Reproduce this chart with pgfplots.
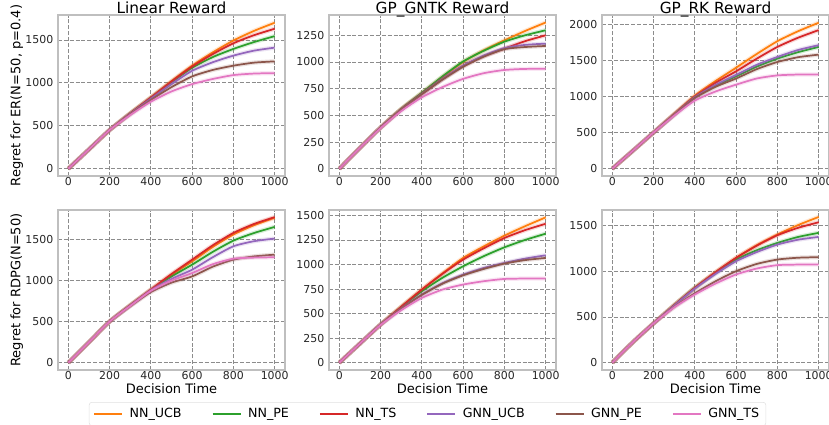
\documentclass[border=0pt]{standalone}
\usepackage{pgfplots}
\pgfplotsset{compat=1.18}
\usepackage{pgfplotstable}
\usepackage{fontspec}
\setmainfont{DejaVu Sans}
\definecolor{c1}{HTML}{FF7F0E}
\definecolor{c2}{HTML}{2CA02C}
\definecolor{c3}{HTML}{D62728}
\definecolor{c4}{HTML}{9467BD}
\definecolor{c5}{HTML}{8C564B}
\definecolor{c6}{HTML}{E377C2}
\definecolor{framec}{HTML}{BFBFBF}
\definecolor{gridc}{HTML}{8C8C8C}

% x ucb pe ts gucb gpe gts
\pgfplotstableread{
x ucb pe ts gucb gpe gts
0 0 0 0 0 0 0
100 225 225 225 225 225 225
200 450 450 450 450 450 450
300 645 645 645 640 635 625
400 830 825 830 815 800 780
500 1020 1005 1015 985 950 900
600 1200 1175 1190 1140 1075 985
700 1355 1300 1335 1240 1150 1045
800 1493 1395 1461 1317 1200 1090
900 1605 1475 1555 1375 1235 1108
1000 1700 1544 1630 1410 1250 1113
}\tA
\pgfplotstableread{
x ucb pe ts gucb gpe gts
0 0 0 0 0 0 0
100 195 195 195 195 195 195
200 386 386 386 386 386 380
300 560 560 555 555 555 540
400 710 712 700 700 698 669
500 860 865 840 840 835 765
600 1000 1005 965 965 955 842
700 1110 1105 1055 1060 1050 895
800 1203 1190 1125 1130 1120 925
900 1290 1250 1195 1160 1140 935
1000 1370 1297 1250 1172 1150 936
}\tB
\pgfplotstableread{
x ucb pe ts gucb gpe gts
0 0 0 0 0 0 0
100 250 250 250 250 250 250
200 502 502 502 502 502 502
300 760 750 755 750 748 735
400 1014 985 1000 990 980 944
500 1215 1150 1190 1160 1135 1070
600 1400 1280 1350 1300 1250 1165
700 1590 1415 1525 1440 1380 1250
800 1767 1526 1688 1549 1479 1293
900 1905 1615 1815 1645 1545 1305
1000 2023 1688 1921 1712 1581 1307
}\tC
\pgfplotstableread{
x ucb pe ts gucb gpe gts
0 0 0 0 0 0 0
100 250 250 250 250 250 250
200 501 501 501 501 501 501
300 700 700 700 695 690 692
400 888 885 892 880 860 875
500 1070 1050 1080 1020 975 1000
600 1235 1194 1255 1133 1051 1092
700 1410 1350 1430 1285 1170 1200
800 1561 1487 1581 1418 1255 1267
900 1675 1580 1690 1480 1295 1280
1000 1765 1654 1773 1512 1316 1284
}\tD
\pgfplotstableread{
x ucb pe ts gucb gpe gts
0 0 0 0 0 0 0
100 195 195 195 195 195 195
200 389 389 389 389 389 385
300 570 565 570 550 550 535
400 745 728 745 694 690 660
500 910 865 905 810 805 745
600 1067 982 1050 897 890 796
700 1185 1085 1165 965 955 830
800 1294 1175 1270 1016 1009 853
900 1390 1250 1350 1060 1045 857
1000 1480 1314 1415 1094 1067 857
}\tE
\pgfplotstableread{
x ucb pe ts gucb gpe gts
0 0 0 0 0 0 0
100 225 225 225 225 225 225
200 430 430 430 430 430 430
300 630 630 630 625 610 605
400 819 820 819 810 760 746
500 990 980 990 970 890 865
600 1147 1128 1147 1110 1001 965
700 1285 1230 1280 1210 1080 1030
800 1402 1310 1394 1292 1128 1067
900 1505 1375 1475 1345 1148 1073
1000 1594 1420 1536 1376 1154 1074
}\tF

\newcommand{\series}[3]{%
  \addplot[#2, smooth, tension=0.4, line width=3.2pt, opacity=0.18, forget plot] table[x=x,y=#3]{#1};
  \addplot[#2, smooth, tension=0.4, line width=1.3pt] table[x=x,y=#3]{#1};
}
\newcommand{\panel}[1]{%
  \series{#1}{c1}{ucb}
  \series{#1}{c2}{pe}
  \series{#1}{c3}{ts}
  \series{#1}{c4}{gucb}
  \series{#1}{c5}{gpe}
  \series{#1}{c6}{gts}
}

\pgfplotsset{
  myaxis/.style={
    scale only axis,
    width=170.25pt,
    anchor=north west,
    xmin=-50, xmax=1050,
    xtick={0,200,...,1000},
    axis line style={framec, line width=0.8pt},
    major tick length=0pt,
    grid=major,
    major grid style={gridc, line width=0.6pt, dash pattern=on 3pt off 1.4pt},
    tick label style={font=\fontsize{8.2}{10}\selectfont, text=black!85},
    xticklabel style={yshift=2.2pt},
    /pgf/number format/1000 sep={},
    /pgf/number format/assume math mode=true,
    label style={font=\fontsize{9.75}{11}\selectfont},
    xlabel style={yshift=4pt},
    ylabel style={yshift=-5pt},
    every axis title/.style={at={(0.5,1)}, anchor=base, yshift=1pt,
      font=\fontsize{11.5}{13}\selectfont},
    every axis plot/.append style={no marks},
    clip=true,
  },
}

\begin{document}
\begin{tikzpicture}
\useasboundingbox (0,0) rectangle (621.75pt,-318.75pt);
% Row 1
\begin{axis}[myaxis, at={(43.5pt,-11.25pt)}, height=120.75pt,
  ymin=-85, ymax=1790, ytick={0,500,1000,1500},
  title={Linear Reward}, ylabel={Regret for ER(N=50, p=0.4)}]
\panel{\tA}
\end{axis}
\begin{axis}[myaxis, at={(246.75pt,-11.25pt)}, height=120.75pt,
  ymin=-68, ymax=1440, ytick={0,250,...,1250},
  title={GP\_GNTK Reward}]
\panel{\tB}
\end{axis}
\begin{axis}[myaxis, at={(451.5pt,-11.25pt)}, height=120.75pt,
  ymin=-101, ymax=2130, ytick={0,500,...,2000},
  title={GP\_RK Reward}]
\panel{\tC}
\end{axis}
% Row 2
\begin{axis}[myaxis, at={(43.5pt,-157.5pt)}, height=120pt,
  ymin=-89, ymax=1860, ytick={0,500,1000,1500},
  xlabel={Decision Time}, ylabel={Regret for RDPG(N=50)}]
\panel{\tD}
\end{axis}
\begin{axis}[myaxis, at={(246.75pt,-157.5pt)}, height=120pt,
  ymin=-74, ymax=1555, ytick={0,250,...,1500},
  xlabel={Decision Time},
  legend columns=6,
  legend style={at={(0.434,-0.275)}, anchor=center,
    draw=black!12, rounded corners=2pt, fill=white,
    font=\fontsize{9.5}{11}\selectfont, inner xsep=3pt, inner ysep=2.5pt,
    /tikz/every odd column/.append style={column sep=3pt},
    /tikz/every even column/.append style={column sep=20.5pt},
    cells={anchor=west}},
  legend image code/.code={\draw[#1, line width=1.3pt] (0pt,0pt) -- (21pt,0pt);},
  ]
\panel{\tE}
\legend{NN\_UCB, NN\_PE, NN\_TS, GNN\_UCB, GNN\_PE, GNN\_TS}
\end{axis}
\begin{axis}[myaxis, at={(451.5pt,-157.5pt)}, height=120pt,
  ymin=-80, ymax=1670, ytick={0,500,1000,1500},
  xlabel={Decision Time}]
\panel{\tF}
\end{axis}
\end{tikzpicture}
\end{document}
